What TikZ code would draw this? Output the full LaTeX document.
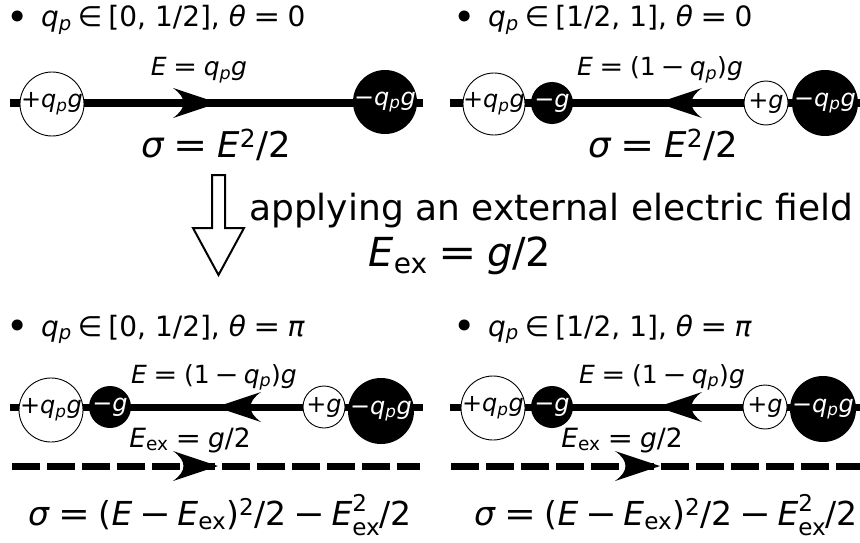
\documentclass[tikz,border=0pt]{standalone}
\usepackage{fontspec}
\setmainfont{DejaVu Sans}
\newcommand{\qp}{\textit{q}\textsubscript{\textit{p}}}
\newcommand{\Eex}{\textit{E}\textsubscript{ex}}
\newcommand{\eq}{\hspace{0.26em}\scalebox{1.15}[1]{=}\hspace{0.26em}}
\newcommand{\mnus}{\hspace{0.2em}\scalebox{1.15}[1]{−}\hspace{0.2em}}
\newcommand{\inn}{\hspace{0.22em}∈\hspace{0.22em}}
\newcommand{\supr}[1]{\raisebox{0.42em}{\scalebox{0.7}{#1}}}
\newcommand{\subr}[1]{\raisebox{-0.33em}{\scalebox{0.7}{#1}}}
\newcommand{\Eexsq}{\textit{E}\rlap{\supr{2}}\subr{ex}}
\newcommand{\bul}{\raisebox{-0.12em}{\scalebox{1.35}{•}}}
\begin{document}
\begin{tikzpicture}[x=1pt,y=-1pt,
  wq/.style={circle,draw=black,line width=0.9pt,fill=white,inner sep=-15pt,text=black,font=\fontsize{24}{24}\selectfont},
  bq/.style={circle,fill=black,inner sep=-15pt,text=white,font=\fontsize{24}{24}\selectfont},
  lab/.style={inner sep=0pt,anchor=base,font=\fontsize{25}{25}\selectfont},
  big/.style={inner sep=0pt,anchor=base,font=\fontsize{35.5}{35.5}\selectfont},
  bigb/.style={inner sep=0pt,anchor=base,font=\fontsize{33}{33}\selectfont},
  bul/.style={inner sep=0pt,anchor=base west,font=\fontsize{28}{28}\selectfont},
  txt/.style={inner sep=0pt,anchor=base west,font=\fontsize{36}{36}\selectfont},
  wire/.style={line width=7pt},
  dwire/.style={line width=7pt,dash pattern=on 28pt off 7pt},
  ahead/.pic={\fill (0,0) -- (-45,-15) .. controls (-31,-5) and (-31,5) .. (-45,15) -- cycle;}
]
\useasboundingbox (0,0) rectangle (860,543);

% ---------- top left ----------
\coordinate (a1) at (10,103); \coordinate (a2) at (423,103);
\draw[wire] (a1) -- (a2);
\pic at (218,103) {ahead};
\node[wq,minimum size=64pt] (w1) at (52,104) {+\qp\textit{g}};
\node[bq,minimum size=64pt] (b1) at (385,102) {−\qp\textit{g}};
\node[lab] (l1) at (199,76) {\textit{E}\eq\qp\textit{g}};
\node[big] (s1) at (216,157) {\textit{σ}\eq\textit{E}\textsuperscript{2}/2};
\node[bul] (t1) at (6,27) {\bul\hspace{0.45em}\qp\inn[0, 1/2], \textit{θ}\eq0};

% ---------- top right ----------
\coordinate (c1) at (450,103); \coordinate (c2) at (860,103);
\draw[wire] (c1) -- (c2);
\pic[rotate=180] at (657,103) {ahead};
\node[wq,minimum size=62pt] (w2) at (494,104) {+\qp\textit{g}};
\node[bq,minimum size=42pt] (b2) at (552,103) {−\textit{g}};
\node[wq,minimum size=44pt] (w3) at (766,103) {+\textit{g}};
\node[bq,minimum size=66pt] (b3) at (825,103) {−\qp\textit{g}};
\node[lab] (l2) at (660,76) {\textit{E}\eq(1\mnus\qp)\textit{g}};
\node[big] (s2) at (663,157) {\textit{σ}\eq\textit{E}\textsuperscript{2}/2};
\node[bul] (t2) at (453,27) {\bul\hspace{0.45em}\qp\inn[1/2, 1], \textit{θ}\eq0};

% ---------- middle ----------
\draw[line width=2pt,fill=white,line join=miter]
  (212,175) -- (225,175) -- (225,228) -- (244,228) -- (218.5,275) -- (193,228) -- (212,228) -- cycle;
\node[txt] (m1) at (249,220) {applying an external electric field};
\node[big,font=\fontsize{40}{40}\selectfont] (m2) at (460,266) {\Eex\eq\textit{g}/2};

% ---------- bottom left ----------
\node[bul] (t3) at (6,336) {\bul\hspace{0.45em}\qp\inn[0, 1/2], \textit{θ}\eq\textit{π}};
\coordinate (d1) at (10,407); \coordinate (d2) at (423,407);
\draw[wire] (d1) -- (d2);
\pic[rotate=180] at (216,407) {ahead};
\node[wq,minimum size=64pt] (w4) at (51,410) {+\qp\textit{g}};
\node[bq,minimum size=42pt] (b4) at (110,407) {−\textit{g}};
\node[wq,minimum size=42pt] (w5) at (324,407) {+\textit{g}};
\node[bq,minimum size=66pt] (b5) at (381,411) {−\qp\textit{g}};
\node[lab] (l3) at (214,383) {\textit{E}\eq(1\mnus\qp)\textit{g}};
\coordinate (e1) at (12,466); \coordinate (e2) at (420,466);
\draw[dwire] (e1) -- (e2);
\pic at (218,466) {ahead};
\node[lab,font=\fontsize{26.5}{26.5}\selectfont] (x1) at (190,447) {\Eex\eq\textit{g}/2};
\node[bigb] (s3) at (220,525) {\textit{σ}\eq(\textit{E}\mnus\Eex)\textsuperscript{2}/2\mnus\Eexsq/2};

% ---------- bottom right ----------
\node[bul] (t4) at (453,336) {\bul\hspace{0.45em}\qp\inn[1/2, 1], \textit{θ}\eq\textit{π}};
\coordinate (f1) at (450,407); \coordinate (f2) at (860,407);
\draw[wire] (f1) -- (f2);
\pic[rotate=180] at (657,407) {ahead};
\node[wq,minimum size=64pt] (w6) at (493,408) {+\qp\textit{g}};
\node[bq,minimum size=42pt] (b6) at (552,407) {−\textit{g}};
\node[wq,minimum size=44pt] (w7) at (765,407) {+\textit{g}};
\node[bq,minimum size=66pt] (b7) at (823,409) {−\qp\textit{g}};
\node[lab] (l4) at (662,383) {\textit{E}\eq(1\mnus\qp)\textit{g}};
\coordinate (g1) at (451,466); \coordinate (g2) at (860,466);
\draw[dwire] (g1) -- (g2);
\pic at (660,466) {ahead};
\node[lab,font=\fontsize{26.5}{26.5}\selectfont] (x2) at (622,447) {\Eex\eq\textit{g}/2};
\node[bigb] (s4) at (666,525) {\textit{σ}\eq(\textit{E}\mnus\Eex)\textsuperscript{2}/2\mnus\Eexsq/2};
\end{tikzpicture}
\end{document}
